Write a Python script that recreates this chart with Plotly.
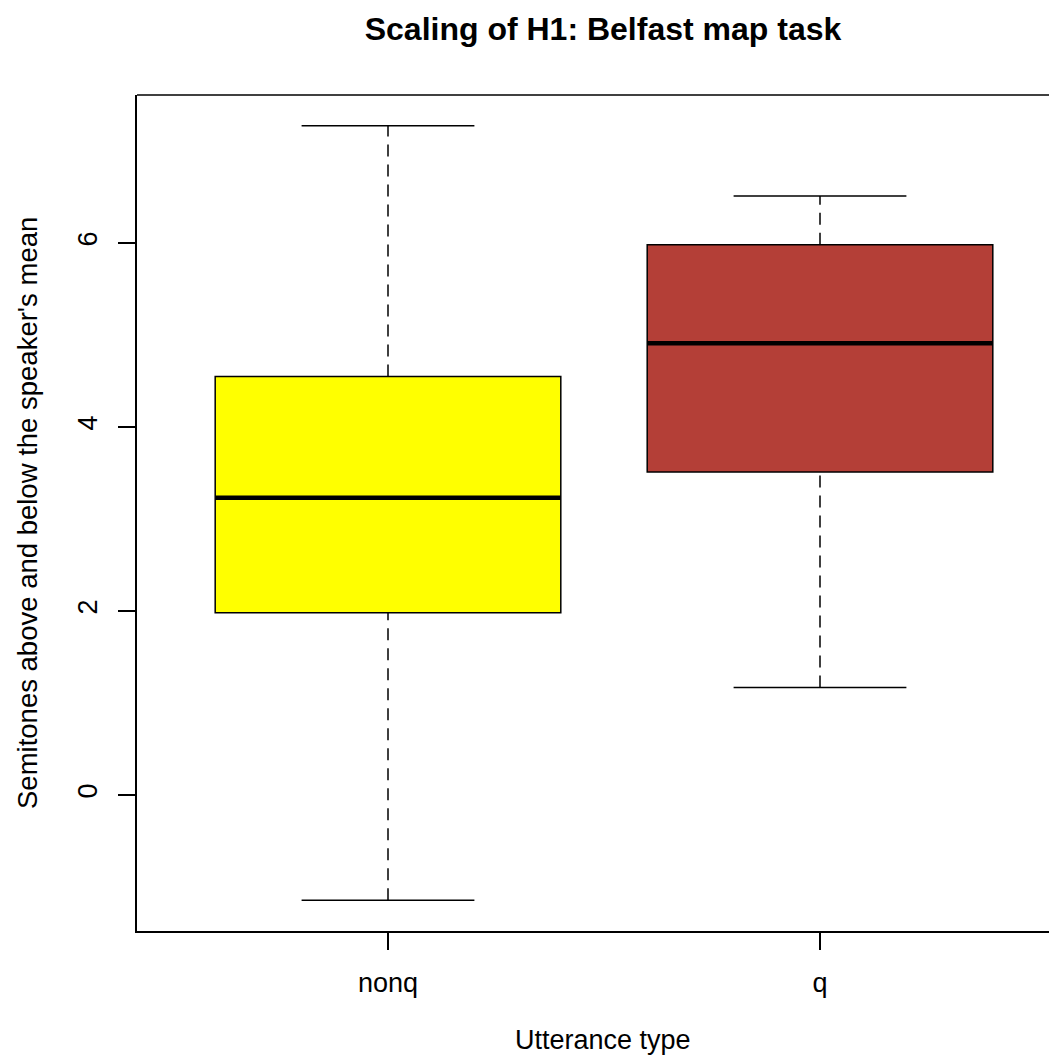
import plotly.graph_objects as go

# dados
categories = ["nonq", "q"]
positions = [1, 2]
q1 = [1.98, 3.51]
median = [3.23, 4.91]
q3 = [4.55, 5.98]
lower = [-1.145, 1.17]
upper = [7.275, 6.51]
colors = ["#FFFF00", "#B43F37"]

y_ticks = [0, 2, 4, 6]

FONT = "Liberation Sans, Arial, sans-serif"
half_box = 0.4
half_cap = 0.2

# a página html tem margem de 8px no body
W, H, OFF = 1057 - 8, 1059 - 8, 8
L, T, PLOT_H = 137 - OFF, 95 - OFF, 836

fig = go.Figure()

# caixas (Q1 -> Q3)
fig.add_trace(go.Bar(
    x=positions, y=[b - a for a, b in zip(q1, q3)], base=q1,
    width=[2 * half_box] * len(positions),
    marker=dict(color=colors, line=dict(color="black", width=1.5)),
    showlegend=False, hoverinfo="skip",
))

for p, lo, a, m, b, hi in zip(positions, lower, q1, median, q3, upper):
    # bigodes tracejados
    for y0, y1 in [(b, hi), (lo, a)]:
        fig.add_trace(go.Scatter(
            x=[p, p], y=[y0, y1], mode="lines",
            line=dict(color="black", width=1.5, dash="12px,8px"),
            showlegend=False, hoverinfo="skip",
        ))
    # extremidades
    for yv in [hi, lo]:
        fig.add_trace(go.Scatter(
            x=[p - half_cap, p + half_cap], y=[yv, yv], mode="lines",
            line=dict(color="black", width=1.5),
            showlegend=False, hoverinfo="skip",
        ))
    # mediana
    fig.add_trace(go.Scatter(
        x=[p - half_box, p + half_box], y=[m, m], mode="lines",
        line=dict(color="black", width=4.5),
        showlegend=False, hoverinfo="skip",
    ))

# moldura (lado direito fica fora da imagem)
fig.add_shape(type="line", xref="paper", yref="paper", x0=0, x1=1, y0=1, y1=1,
              line=dict(color="black", width=1.5))

plot_w = W - L
fig.add_annotation(text="Semitones above and below the speaker's mean",
                   xref="paper", yref="paper", x=(27 - 137) / plot_w, y=0.5,
                   xanchor="center", yanchor="middle", textangle=-90,
                   showarrow=False, font=dict(size=27.5, color="black", family=FONT))
fig.add_annotation(text="Utterance type",
                   xref="paper", yref="paper", x=(603 - 137) / plot_w,
                   y=-(1040 - 931) / PLOT_H,
                   xanchor="center", yanchor="middle",
                   showarrow=False, font=dict(size=27, color="black", family=FONT))

fig.update_layout(
    width=W, height=H,
    margin=dict(l=L, r=0, t=T, b=H - T - PLOT_H),
    paper_bgcolor="white", plot_bgcolor="white",
    font=dict(family=FONT, size=27, color="black"),
    title=dict(text="<b>Scaling of H1: Belfast map task</b>",
               x=(603 - OFF) / W, xanchor="center",
               y=1 - (29 - OFF) / H, yanchor="middle",
               font=dict(size=32, color="black", family=FONT)),
    xaxis=dict(range=[0.419, 2.5486], tickvals=positions, ticktext=categories,
               showgrid=False, zeroline=False, showline=True, linecolor="black",
               linewidth=1.5, ticks="outside", ticklen=17, tickwidth=1.5,
               tickcolor="black", ticklabelstandoff=10),
    yaxis=dict(range=[-1.478, 7.609], tickvals=y_ticks, tickangle=-90,
               showgrid=False, zeroline=False, showline=True, linecolor="black",
               linewidth=1.5, ticks="outside", ticklen=17, tickwidth=1.5,
               tickcolor="black", ticklabelstandoff=10),
)

fig.write_html("out.html")
